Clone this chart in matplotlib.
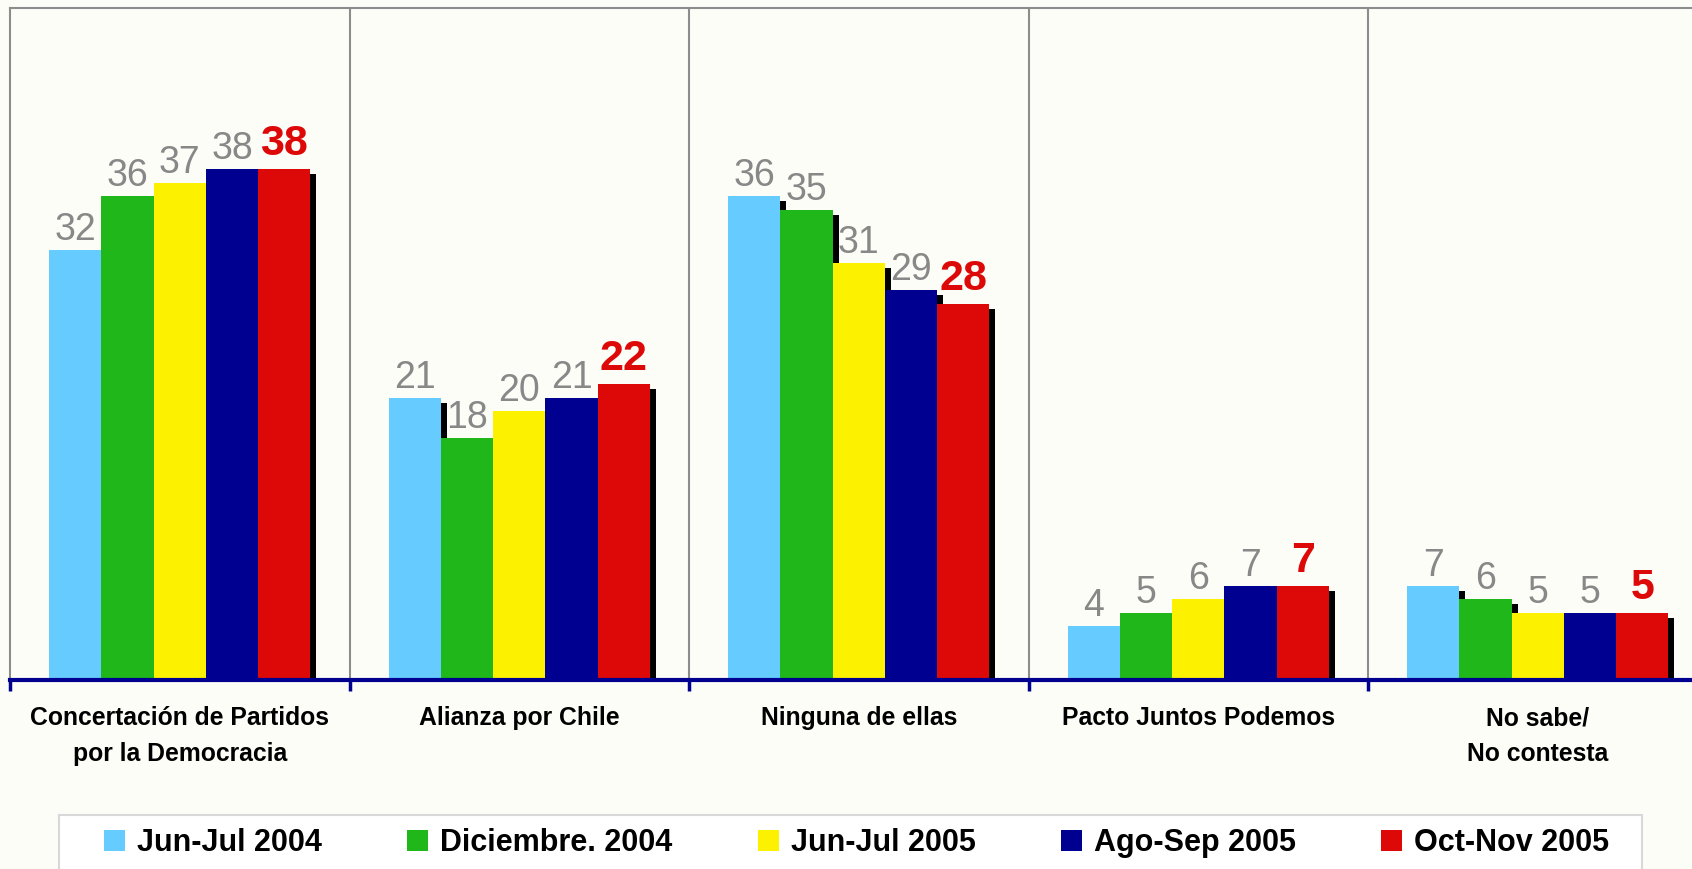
import matplotlib.pyplot as plt
import matplotlib.patches as mpatches
import numpy as np

categories = ["Concertación de Partidos\npor la Democracia", "Alianza por Chile",
              "Ninguna de ellas", "Pacto Juntos Podemos", "No sabe/\nNo contesta"]
periods = ["Jun-Jul 2004", "Diciembre. 2004", "Jun-Jul 2005", "Ago-Sep 2005", "Oct-Nov 2005"]
jun04 = [32, 21, 36, 4, 7]
dic04 = [36, 18, 35, 5, 6]
jun05 = [37, 20, 31, 6, 5]
ago05 = [38, 21, 29, 7, 5]
oct05 = [38, 22, 28, 7, 5]
series = [jun04, dic04, jun05, ago05, oct05]
colors = ["#66CCFF", "#1FB71A", "#FCF200", "#000090", "#DD0808"]

plt.rcParams["font.family"] = ["Liberation Sans", "DejaVu Sans"]

bg = "#FDFDF8"
W, H = 1692, 869
fig = plt.figure(figsize=(W / 100, H / 100), dpi=100, facecolor=bg)
# axes runs past the right edge of the picture like the original
ax = fig.add_axes([10 / W, 1 - 680 / H, 1697.5 / W, 672 / H], facecolor=bg)

x = np.arange(len(categories))
bw = 0.154
dx, dy = 6 / 339.5, 5 / 13.46  # shadow offset in data units

bars = []
for i, vals in enumerate(series):
    xs = x + (i - 2) * bw
    # black drop shadow
    ax.bar(xs + dx, np.array(vals) - dy, width=bw, bottom=0, color="black", zorder=1)
    b = ax.bar(xs, vals, width=bw, color=colors[i], zorder=2, label=periods[i])
    bars.append(b)
    for xi, v in zip(xs, vals):
        if i == 4:
            ax.annotate(str(v), (xi, v), xytext=(0, 3.5), textcoords="offset points",
                        ha="center", va="bottom", fontsize=31, fontweight="bold",
                        color="#DD0808", zorder=3)
        else:
            ax.annotate(str(v), (xi, v), xytext=(0, 1.5), textcoords="offset points",
                        ha="center", va="bottom", fontsize=27, color="#888888", zorder=3)

ax.set_xlim(-0.5, 4.5)
ax.set_ylim(0, 50)
ax.set_yticks([])

# separators between groups
for s in np.arange(0.5, 4.5, 1):
    ax.axvline(s, color="#8C8C8C", lw=1.5, zorder=0)
for sp in ["left", "top", "right"]:
    ax.spines[sp].set_color("#8C8C8C")
    ax.spines[sp].set_linewidth(1.5)
ax.spines["bottom"].set_color("#000090")
ax.spines["bottom"].set_linewidth(3)
ax.spines["bottom"].set_zorder(4)

ax.set_xticks(np.arange(-0.5, 5, 1))
ax.set_xticklabels([])
ax.tick_params(axis="x", which="major", direction="out", length=8, width=2.5, color="#000090")
ax.set_xticks(x, minor=True)
ax.set_xticklabels(categories, minor=True, fontsize=17.8, fontweight="bold", linespacing=1.62)
ax.tick_params(axis="x", which="minor", length=0, pad=19)

# legend box (bottom edge falls outside the picture)
fig.add_artist(mpatches.Rectangle((59 / W, -0.1), (1642 - 59) / W, 0.1 + 1 - 815 / H,
                                  transform=fig.transFigure, facecolor="white",
                                  edgecolor="#D8D8D8", lw=1.5, zorder=1))
leg = fig.legend(handles=bars, labels=periods, loc="center left",
                 bbox_to_anchor=(104 / W, 1 - 843 / H), ncol=5, frameon=False,
                 prop={"weight": "bold", "size": 22},
                 handlelength=0.69, handleheight=0.69, handletextpad=0.4,
                 columnspacing=2.78, borderpad=0, borderaxespad=0)
leg.set_zorder(2)

fig.savefig("out.png", dpi=100, facecolor=bg)
